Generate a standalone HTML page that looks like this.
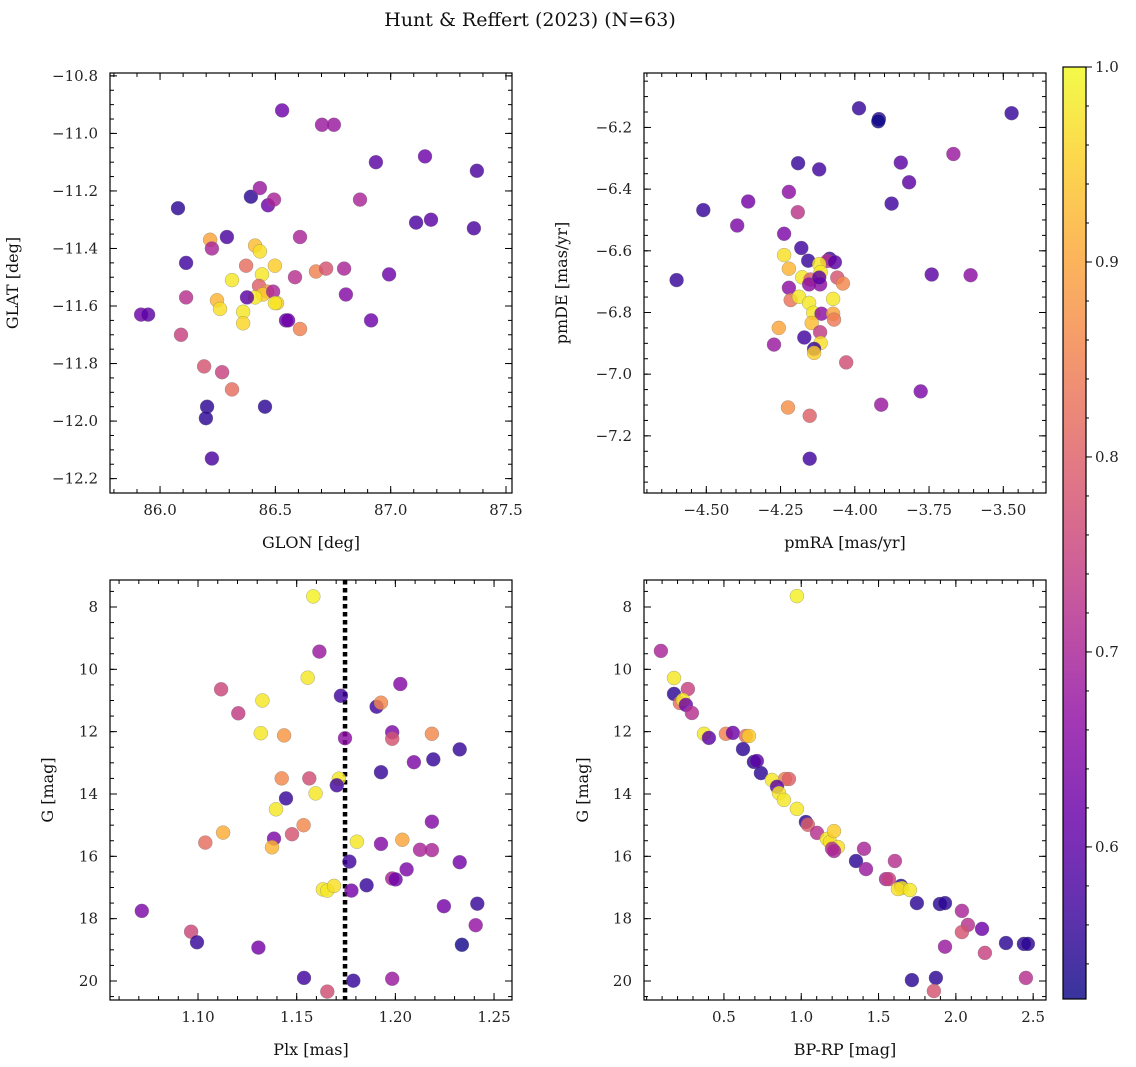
<!DOCTYPE html>
<html><head><meta charset="utf-8">
<style>
html,body{margin:0;padding:0;background:#fff;}
svg{display:block;font-family:"DejaVu Serif","Liberation Serif",serif;}
</style></head>
<body>
<svg id="fig" width="1136" height="1067" viewBox="0 0 1136 1067" xmlns="http://www.w3.org/2000/svg">
<text x="530" y="26" text-anchor="middle" font-size="19" fill="#111">Hunt &amp; Reffert (2023) (N=63)</text>
</svg>
<script>
// ---------- data ----------
const p1_glon=[86.529,86.702,86.754,86.936,87.149,87.374,86.078,86.394,86.433,86.468,86.494,86.867,87.11,87.175,87.361,86.113,86.217,86.225,86.29,86.607,86.373,86.412,86.433,86.498,86.442,86.312,86.585,86.676,86.72,86.798,86.993,86.429,86.464,86.446,86.49,86.412,86.377,86.113,86.247,86.507,86.498,86.806,86.26,86.36,86.36,86.546,86.555,86.607,86.915,85.918,85.948,86.091,86.191,86.269,86.312,86.204,86.199,86.455,86.225];
const p1_glat=[-10.92,-10.97,-10.97,-11.1,-11.08,-11.13,-11.26,-11.22,-11.19,-11.25,-11.23,-11.23,-11.31,-11.3,-11.33,-11.45,-11.37,-11.4,-11.36,-11.36,-11.46,-11.39,-11.41,-11.46,-11.49,-11.51,-11.5,-11.48,-11.47,-11.47,-11.49,-11.53,-11.55,-11.56,-11.55,-11.57,-11.57,-11.57,-11.58,-11.59,-11.59,-11.56,-11.61,-11.62,-11.66,-11.65,-11.65,-11.68,-11.65,-11.63,-11.63,-11.7,-11.81,-11.83,-11.89,-11.95,-11.99,-11.95,-12.13];
const p1_prob=[0.62,0.68,0.68,0.6,0.62,0.58,0.55,0.55,0.68,0.62,0.7,0.7,0.58,0.6,0.58,0.57,0.9,0.7,0.58,0.7,0.82,0.93,0.97,0.95,0.98,0.98,0.72,0.85,0.78,0.7,0.62,0.8,0.88,0.95,0.7,0.98,0.6,0.72,0.92,0.95,0.98,0.65,0.97,0.98,0.96,0.62,0.62,0.85,0.62,0.62,0.6,0.75,0.78,0.75,0.82,0.55,0.55,0.55,0.58];

const p2_pmra=[-3.986,-3.919,-3.921,-3.472,-3.668,-4.191,-4.12,-3.845,-3.817,-3.876,-4.222,-4.192,-4.359,-4.51,-4.396,-4.238,-4.18,-4.6,-4.238,-4.222,-4.157,-4.085,-4.093,-4.067,-4.12,-4.115,-4.177,-4.149,-4.154,-4.117,-4.12,-4.059,-4.04,-4.222,-4.216,-4.188,-4.154,-4.073,-4.14,-4.112,-4.073,-4.07,-4.145,-4.256,-4.117,-4.17,-4.115,-4.272,-4.137,-4.137,-4.029,-3.778,-3.911,-4.225,-4.152,-4.152,-3.741,-3.61];
const p2_pmde=[-6.138,-6.173,-6.18,-6.154,-6.286,-6.316,-6.336,-6.314,-6.378,-6.447,-6.409,-6.475,-6.44,-6.468,-6.518,-6.545,-6.591,-6.695,-6.614,-6.658,-6.632,-6.626,-6.633,-6.637,-6.643,-6.669,-6.686,-6.693,-6.709,-6.709,-6.687,-6.687,-6.706,-6.72,-6.76,-6.749,-6.769,-6.756,-6.801,-6.804,-6.804,-6.823,-6.834,-6.85,-6.864,-6.881,-6.899,-6.904,-6.918,-6.931,-6.962,-7.056,-7.099,-7.108,-7.135,-7.274,-6.677,-6.679];
const p2_prob=[0.56,0.55,0.52,0.56,0.68,0.56,0.57,0.6,0.6,0.57,0.66,0.73,0.63,0.56,0.64,0.64,0.57,0.56,0.97,0.92,0.56,0.57,0.72,0.6,0.98,0.98,0.98,0.8,0.66,0.66,0.6,0.78,0.86,0.66,0.83,0.98,0.98,0.98,0.98,0.66,0.9,0.84,0.93,0.9,0.74,0.57,0.97,0.68,0.56,0.95,0.77,0.64,0.68,0.87,0.8,0.57,0.6,0.66];

const p3_plx=[1.1584,1.1615,1.1556,1.1117,1.1326,1.1724,1.2025,1.1204,1.1905,1.1927,1.1318,1.1436,1.1745,1.1984,1.1984,1.2185,1.2326,1.2094,1.2192,1.1927,1.1424,1.1564,1.1714,1.1703,1.1596,1.1446,1.1395,1.2185,1.1535,1.1127,1.1476,1.1037,1.1385,1.1375,1.1805,1.1927,1.2035,1.2125,1.2185,1.1767,1.2326,1.2057,1.1984,1.2001,1.1633,1.1655,1.1689,1.1777,1.1854,1.0715,1.2246,1.2415,1.2407,1.0965,1.0995,1.1306,1.2337,1.1537,1.1787,1.1984,1.1655];
const p3_g=[7.66,9.43,10.27,10.64,11.0,10.85,10.47,11.41,11.2,11.07,12.05,12.12,12.21,12.02,12.23,12.07,12.57,12.98,12.89,13.3,13.5,13.5,13.51,13.72,13.98,14.14,14.49,14.89,15.0,15.24,15.29,15.56,15.43,15.71,15.53,15.6,15.47,15.79,15.8,16.17,16.19,16.42,16.71,16.74,17.06,17.1,16.95,17.1,16.93,17.75,17.6,17.52,18.21,18.42,18.76,18.93,18.84,19.9,19.99,19.93,20.34];
const p3_prob=[0.99,0.68,0.98,0.76,0.98,0.57,0.65,0.74,0.57,0.86,0.98,0.88,0.66,0.64,0.78,0.86,0.56,0.64,0.56,0.56,0.86,0.77,0.98,0.57,0.98,0.56,0.98,0.65,0.86,0.91,0.78,0.82,0.64,0.92,0.98,0.65,0.9,0.7,0.7,0.57,0.63,0.64,0.7,0.62,0.98,0.98,0.97,0.63,0.56,0.64,0.63,0.56,0.67,0.76,0.56,0.63,0.53,0.57,0.56,0.68,0.77];

const p4_bprp=[0.972,0.092,0.177,0.177,0.267,0.215,0.235,0.254,0.293,0.371,0.403,0.513,0.558,0.642,0.662,0.623,0.694,0.713,0.739,0.895,0.92,0.81,0.843,0.856,0.888,0.972,1.03,1.043,1.102,1.166,1.186,1.212,1.237,1.199,1.212,1.406,1.354,1.419,1.606,1.548,1.567,1.645,1.651,1.625,1.703,1.748,1.897,1.93,2.039,2.078,2.039,2.169,2.324,2.44,2.466,1.93,2.188,1.716,1.871,2.453,1.858];
const p4_g=[7.65,9.41,10.28,10.79,10.63,11.08,10.98,11.14,11.4,12.07,12.2,12.07,12.04,12.14,12.14,12.56,12.97,12.94,13.33,13.52,13.52,13.55,13.77,13.97,14.19,14.48,14.9,14.99,15.25,15.44,15.54,15.19,15.7,15.76,15.83,15.76,16.15,16.41,16.15,16.73,16.73,16.95,17.02,17.05,17.08,17.5,17.53,17.5,17.75,18.2,18.43,18.33,18.78,18.81,18.81,18.9,19.1,19.97,19.9,19.9,20.32];
const p4_prob=[0.99,0.7,0.98,0.55,0.75,0.82,0.98,0.62,0.72,0.98,0.6,0.85,0.62,0.82,0.95,0.55,0.55,0.6,0.55,0.85,0.8,0.98,0.6,0.98,0.98,0.98,0.55,0.8,0.72,0.98,0.97,0.95,0.97,0.72,0.7,0.7,0.55,0.68,0.72,0.7,0.75,0.55,0.98,0.97,0.98,0.55,0.55,0.55,0.7,0.72,0.78,0.62,0.55,0.55,0.55,0.68,0.75,0.55,0.55,0.72,0.78];

const cb_ticks=[0.6,0.7,0.8,0.9,1.0];
const plx_line=1.1745;
const vmin=0.522, vmax=1.0;

// ---------- helpers ----------
const NS="http://www.w3.org/2000/svg";
const svg=document.getElementById('fig');
function mk(tag,attrs,parent){const e=document.createElementNS(NS,tag);for(const k in attrs)e.setAttribute(k,attrs[k]);(parent||svg).appendChild(e);return e;}
const stops=[[13,8,135],[65,4,157],[106,0,168],[143,13,164],[177,42,144],[204,71,120],[225,100,98],[242,132,75],[252,166,54],[252,206,37],[240,249,33]];
function plasma(t){t=Math.max(0,Math.min(1,t));const f=t*10,i=Math.min(9,Math.floor(f)),r=f-i;const a=stops[i],b=stops[i+1];return 'rgb('+a.map((v,k)=>Math.round(v+(b[k]-v)*r)).join(',')+')';}
function fmt(v,d){const s=Math.abs(v).toFixed(d);return (v<-1e-9?'\u2212':'')+s;}

function drawPanel(name,box,xd,yd,xt,xminor,xdec,yt,yminor,ydec,xs,ys,ps,xlabel,ylabel,lblOff,extra){
  const g=mk('g',{});
  
  
  const sx=v=>box.x0+(v-xd[0])/(xd[1]-xd[0])*(box.x1-box.x0);
  const sy=v=>box.y0+(v-yd[0])/(yd[1]-yd[0])*(box.y1-box.y0);
  if(extra)extra(g,sx,sy);
  for(let i=0;i<xs.length;i++){
    const c=mk('circle',{cx:sx(xs[i]).toFixed(1),cy:sy(ys[i]).toFixed(1),r:7,fill:plasma((ps[i]-vmin)/(vmax-vmin)),'fill-opacity':0.82,stroke:'#777','stroke-width':0.5,'stroke-opacity':0.6},g);
    
    
  }
  const fr=mk('rect',{x:box.x0,y:box.y0,width:box.x1-box.x0,height:box.y1-box.y0,fill:'none',stroke:'#000','stroke-width':1.2},g);
  
  
  const xmin=Math.min(...xd),xmax=Math.max(...xd),ymin=Math.min(...yd),ymax=Math.max(...yd);
  const tl=(x1,y1,x2,y2)=>mk('line',{x1,y1,x2,y2,stroke:'#000','stroke-width':1},g);
  for(let v=Math.ceil(xmin/xminor-1e-6)*xminor;v<=xmax+1e-9;v+=xminor){const x=sx(v);tl(x,box.y1,x,box.y1-4);tl(x,box.y0,x,box.y0+4);}
  for(let v=Math.ceil(ymin/yminor-1e-6)*yminor;v<=ymax+1e-9;v+=yminor){const y=sy(v);tl(box.x0,y,box.x0+4,y);tl(box.x1,y,box.x1-4,y);}
  xt.forEach(v=>{const x=sx(v);tl(x,box.y1,x,box.y1-7);tl(x,box.y0,x,box.y0+7);
    const t=mk('text',{x:x,y:box.y1+22,'text-anchor':'middle','font-size':15,fill:'#222'},g);t.textContent=fmt(v,xdec);
    
    });
  yt.forEach(v=>{const y=sy(v);tl(box.x0,y,box.x0+7,y);tl(box.x1,y,box.x1-7,y);
    const t=mk('text',{x:box.x0-12,y:y+5,'text-anchor':'end','font-size':15,fill:'#222'},g);t.textContent=fmt(v,ydec);
    
    });
  const xl=mk('text',{x:(box.x0+box.x1)/2,y:box.y1+55,'text-anchor':'middle','font-size':16,fill:'#111'},g);xl.textContent=xlabel;
  
  
  const lx=box.x0-lblOff;
  const yl=mk('text',{x:lx,y:(box.y0+box.y1)/2,'text-anchor':'middle','font-size':16,fill:'#111',transform:'rotate(-90 '+lx+' '+(box.y0+box.y1)/2+')'},g);yl.textContent=ylabel;
  
  
}
const B1={x0:110,x1:512,y0:73,y1:493},B2={x0:644,x1:1046,y0:73,y1:493},B3={x0:110,x1:512,y0:580,y1:1000},B4={x0:644,x1:1046,y0:580,y1:1000};
const r=(a,b,s)=>{const o=[];for(let v=a;v<=b+1e-9;v+=s)o.push(+v.toFixed(4));return o;};

drawPanel('glon-glat-panel',B1,[85.783,87.526],[-10.79,-12.25],r(86,87.5,0.5),0.1,1,r(-12.2,-10.8,0.2),0.05,1,p1_glon,p1_glat,p1_prob,'GLON [deg]','GLAT [deg]',92);
drawPanel('proper-motion-panel',B2,[-4.7098,-3.3562],[-6.0235,-7.3853],r(-4.5,-3.5,0.25),0.05,2,r(-7.2,-6.2,0.2),0.05,1,p2_pmra,p2_pmde,p2_prob,'pmRA [mas/yr]','pmDE [mas/yr]',77);
drawPanel('parallax-panel',B3,[1.0554,1.2591],[7.134,20.61],r(1.10,1.25,0.05),0.01,2,r(8,20,2),0.5,0,p3_plx,p3_g,p3_prob,'Plx [mas]','G [mag]',57,(g,sx,sy)=>{
  const x=sx(plx_line);
  const l=mk('line',{x1:x,y1:B3.y0,x2:x,y2:B3.y1,stroke:'#000','stroke-width':4.5,'stroke-dasharray':'4.5,3.5'},g);
  
  
});
drawPanel('cmd-panel',B4,[-0.017,2.583],[7.134,20.61],r(0.5,2.5,0.5),0.1,1,r(8,20,2),0.5,0,p4_bprp,p4_g,p4_prob,'BP-RP [mag]','G [mag]',56);

// ---------- colorbar ----------
const cb=mk('g',{});


const defs=mk('defs',{},cb);
const lg=mk('linearGradient',{id:'cbg',x1:0,y1:1,x2:0,y2:0},defs);
for(let i=0;i<=20;i++){mk('stop',{offset:(i/20),'stop-color':plasma(i/20),'stop-opacity':0.82},lg);}
const CB={x0:1063,x1:1086,y0:67,y1:999};
mk('rect',{x:CB.x0,y:CB.y0,width:CB.x1-CB.x0,height:CB.y1-CB.y0,fill:'url(#cbg)',stroke:'#000','stroke-width':1.2},cb);
const cy=v=>CB.y1-(v-vmin)/(vmax-vmin)*(CB.y1-CB.y0);
for(let v=0.54;v<=1.0001;v+=0.02){const y=cy(v);mk('line',{x1:CB.x1,y1:y,x2:CB.x1+3,y2:y,stroke:'#000','stroke-width':1},cb);}
cb_ticks.forEach(v=>{const y=cy(v);mk('line',{x1:CB.x1,y1:y,x2:CB.x1+6,y2:y,stroke:'#000','stroke-width':1},cb);
  const t=mk('text',{x:CB.x1+9,y:y+5,'font-size':15,fill:'#222'},cb);t.textContent=v.toFixed(1);
  
  });
</script>
</body></html>
